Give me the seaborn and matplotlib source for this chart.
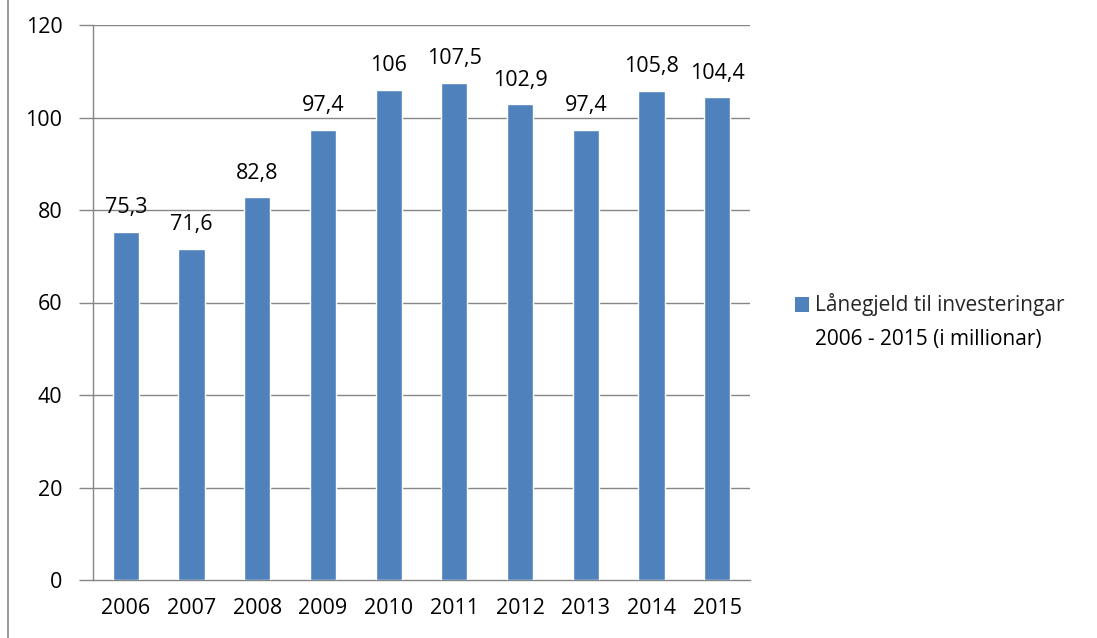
import matplotlib
matplotlib.use("Agg")
import matplotlib.pyplot as plt
import seaborn as sns
import pandas as pd
from matplotlib.patches import Patch
from matplotlib.lines import Line2D

years = ["2006", "2007", "2008", "2009", "2010", "2011", "2012", "2013", "2014", "2015"]
values = [75.3, 71.6, 82.8, 97.4, 106, 107.5, 102.9, 97.4, 105.8, 104.4]
labels = ["75,3", "71,6", "82,8", "97,4", "106", "107,5", "102,9", "97,4", "105,8", "104,4"]
series_lines = ["Lånegjeld til investeringar", "2006 - 2015 (i millionar)"]
yticks = [0, 20, 40, 60, 80, 100, 120]

sns.set_theme(style="white")
plt.rcParams["font.family"] = ["Open Sans", "DejaVu Sans"]

FS = 15.5
LFS = 15

df = pd.DataFrame({"year": years, "value": values})

fig = plt.figure(figsize=(10.97, 6.38), dpi=100)
ax = fig.add_axes([93/1097, 58/638, (750-93)/1097, (580-25)/638])

bar_color = "#4F81BD"
grid_color = "#868686"

sns.barplot(data=df, x="year", y="value", color=bar_color, width=0.4,
            saturation=1, ax=ax, zorder=3)

ax.set_xlim(-0.5, len(years) - 0.5)
ax.set_ylim(0, 120)
ax.set_yticks(yticks)
ax.set_yticklabels([str(t) for t in yticks], fontsize=FS)
ax.set_xlabel("")
ax.set_ylabel("")

for t in yticks[1:]:
    ax.axhline(t, color=grid_color, linewidth=1, zorder=1)

for i, (v, lab) in enumerate(zip(values, labels)):
    ax.text(i, v + 4.0, lab, ha="center", va="baseline", fontsize=FS, color="black")

for s in ["top", "right"]:
    ax.spines[s].set_visible(False)
for s in ["left", "bottom"]:
    ax.spines[s].set_color(grid_color)
    ax.spines[s].set_linewidth(1)

ax.tick_params(axis="x", which="major", length=0, labelsize=FS, pad=13, colors="black")
ax.set_xticks([i - 0.5 for i in range(len(years) + 1)], minor=True)
ax.tick_params(axis="x", which="minor", length=8, width=1, color=grid_color, direction="out")
ax.tick_params(axis="y", which="major", length=10, width=1, color=grid_color,
               direction="out", labelsize=FS, pad=12, labelcolor="black")
ax.tick_params(axis="both", bottom=True, left=True)
for lbl in ax.get_xticklabels():
    lbl.set_fontsize(FS)

handle = Patch(facecolor=bar_color, edgecolor="none")
leg = fig.legend([handle], [series_lines[0]], loc="center left",
                 bbox_to_anchor=(795/1097, 1 - 305/638), frameon=False,
                 fontsize=LFS, handlelength=0.65, handleheight=0.75, handletextpad=0.3,
                 borderaxespad=0, borderpad=0, labelspacing=0)

fig.canvas.draw()
bb = leg.get_texts()[0].get_window_extent()
x0 = bb.x0 / fig.bbox.width
fig.text(x0, 1 - 340/638, series_lines[1], ha="left", va="center", fontsize=LFS,
         color="black")

fig.add_artist(Line2D([8/1097, 8/1097], [0, 1], transform=fig.transFigure,
                      color=grid_color, linewidth=1.2))

fig.savefig("out.png", dpi=100, facecolor="white")
